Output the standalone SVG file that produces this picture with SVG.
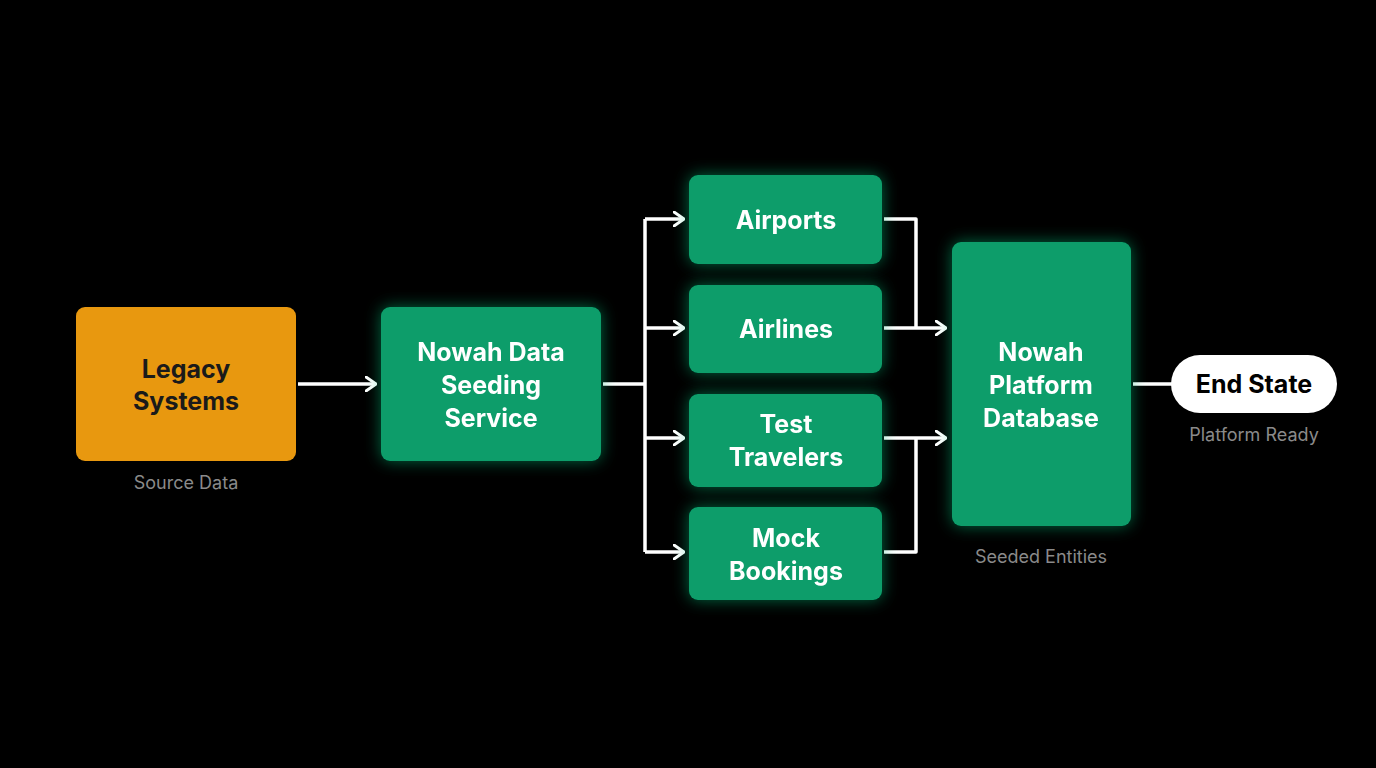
<svg xmlns="http://www.w3.org/2000/svg" width="1376" height="768" viewBox="0 0 1376 768">
<defs>
<filter id="glow" x="-30%" y="-30%" width="160%" height="160%">
<feGaussianBlur in="SourceAlpha" stdDeviation="9"/>
<feFlood flood-color="#10c07a" flood-opacity="0.55"/>
<feComposite operator="in" in2="SourceAlpha"/>
<feGaussianBlur stdDeviation="8"/>
<feMerge><feMergeNode/><feMergeNode in="SourceGraphic"/></feMerge>
</filter>
<marker id="arr" viewBox="0 0 12 16" refX="11" refY="8" markerWidth="12" markerHeight="16" markerUnits="userSpaceOnUse" orient="auto">
<path d="M1,1 L11,8 L1,15" fill="none" stroke="#fff" stroke-width="3" stroke-linecap="round" stroke-linejoin="round"/>
</marker>
</defs>
<style>
.g{fill:#0a9d6a}
.t{font-family:Inter,"Liberation Sans",sans-serif;font-weight:700;font-size:25px;fill:#fff;text-anchor:middle}
.s{font-family:Inter,"Liberation Sans",sans-serif;font-size:18px;fill:#8a8a8a;text-anchor:middle}
.c{fill:none;stroke:#fff;stroke-width:3.5;stroke-linejoin:round}
</style>
<rect width="1376" height="768" fill="#000"/>
<g id="connectors">
<path class="c" d="M298,384 H376" marker-end="url(#arr)"/>
<path class="c" d="M603,384 H645"/>
<path class="c" d="M645,219 V552"/>
<path class="c" d="M645,219 H684" marker-end="url(#arr)"/>
<path class="c" d="M645,328 H684" marker-end="url(#arr)"/>
<path class="c" d="M645,438 H684" marker-end="url(#arr)"/>
<path class="c" d="M645,552 H684" marker-end="url(#arr)"/>
<path class="c" d="M884,219 H916 V328"/>
<path class="c" d="M884,328 H946" marker-end="url(#arr)"/>
<path class="c" d="M884,552 H916 V438"/>
<path class="c" d="M884,438 H946" marker-end="url(#arr)"/>
<path class="c" d="M1133,384 H1172"/>
</g>
<g id="legacy">
<rect x="76" y="307" width="220" height="154" rx="9" fill="#e8980f"/>
<text class="t" x="186" y="378" style="fill:#1a1a1a">Legacy</text>
<text class="t" x="186" y="410" style="fill:#1a1a1a">Systems</text>
<text class="s" x="186" y="489">Source Data</text>
</g>
<g id="seeding" filter="url(#glow)">
<rect class="g" x="381" y="307" width="220" height="154" rx="9"/>
<text class="t" x="491" y="361">Nowah Data</text>
<text class="t" x="491" y="394">Seeding</text>
<text class="t" x="491" y="427">Service</text>
</g>
<g id="airports" filter="url(#glow)">
<rect class="g" x="689" y="175" width="193" height="89" rx="9"/>
<text class="t" x="786" y="229">Airports</text>
</g>
<g id="airlines" filter="url(#glow)">
<rect class="g" x="689" y="285" width="193" height="88" rx="9"/>
<text class="t" x="786" y="338">Airlines</text>
</g>
<g id="travelers" filter="url(#glow)">
<rect class="g" x="689" y="394" width="193" height="93" rx="9"/>
<text class="t" x="786" y="433">Test</text>
<text class="t" x="786" y="466">Travelers</text>
</g>
<g id="bookings" filter="url(#glow)">
<rect class="g" x="689" y="507" width="193" height="93" rx="9"/>
<text class="t" x="786" y="547">Mock</text>
<text class="t" x="786" y="580">Bookings</text>
</g>
<g id="database" filter="url(#glow)">
<rect class="g" x="952" y="242" width="179" height="284" rx="9"/>
<text class="t" x="1041" y="361">Nowah</text>
<text class="t" x="1041" y="394">Platform</text>
<text class="t" x="1041" y="427">Database</text>
</g>
<text class="s" x="1041" y="563">Seeded Entities</text>
<g id="endstate">
<rect x="1171" y="355" width="166" height="58" rx="29" fill="#fff"/>
<text class="t" x="1254" y="393" style="fill:#000">End State</text>
<text class="s" x="1254" y="441">Platform Ready</text>
</g>
</svg>
